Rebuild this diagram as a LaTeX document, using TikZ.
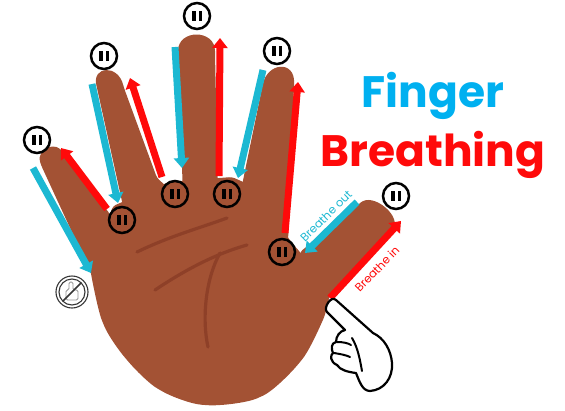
\documentclass[tikz,border=0pt]{standalone}
\usepackage{fontspec}
\newfontfamily\comicfont{Poppins}
\usetikzlibrary{arrows.meta}
\definecolor{skin}{RGB}{163,82,52}
\definecolor{crease}{RGB}{142,64,40}
\definecolor{exhale}{RGB}{28,184,210}
\definecolor{inhale}{RGB}{255,10,10}
\definecolor{titleblue}{RGB}{0,176,240}
\definecolor{iconline}{RGB}{55,55,55}
\begin{document}
\begin{tikzpicture}[x=1pt,y=-1pt,
  breath/.style={line width=7pt,-{Triangle[length=10pt,width=15pt]}},
  exhalearrow/.style={breath,draw=exhale},
  inhalearrow/.style={breath,draw=inhale},
  pausebtn/.style={circle,draw=black,line width=2.5pt,minimum size=26pt,inner sep=0pt,
    path picture={
      \fill ([xshift=-4.6pt,yshift=-5pt]path picture bounding box.center)
        rectangle ([xshift=-1.5pt,yshift=5pt]path picture bounding box.center);
      \fill ([xshift=1.5pt,yshift=-5pt]path picture bounding box.center)
        rectangle ([xshift=4.6pt,yshift=5pt]path picture bounding box.center);}},
  palmline/.style={draw=crease,line width=3.2pt,line cap=round},
  cartoon/.style={draw=black,fill=white,line width=2.2pt,line join=round,line cap=round},
  breathlabel/.style={font=\comicfont\fontsize{11.5}{13}\selectfont,inner sep=0pt},
  titletext/.style={font=\comicfont\bfseries\fontsize{44}{50}\selectfont,inner sep=0pt,anchor=base}
]
\useasboundingbox (0,0) rectangle (565,410);

% ---------- the open hand ----------
\begin{scope}[fill=skin,rounded corners=3pt]
  % little finger
  \fill (95,282) -- (41,165) .. controls (36,148) and (58,140) .. (64,156)
        -- (110,214) -- (118,262) -- cycle;
  % ring finger
  \fill (125,215) -- (97,88) .. controls (92,66) and (118,64) .. (124,88)
        -- (157,178) -- (166,186) -- (150,215) -- cycle;
  % middle finger
  \fill (183,195) -- (178,54) .. controls (178,29) and (215,29) .. (215,54)
        -- (218,190) -- cycle;
  % index finger
  \fill (239,200) -- (262,88) .. controls (267,62) and (295,60) .. (294,86)
        -- (288,242) -- (270,240) -- cycle;
  % thumb
  \fill (300,252) -- (358,205) .. controls (373,191) and (404,218) .. (390,232)
        -- (325,300) -- (300,300) -- cycle;
  % palm
  \fill (113,206) -- (90,270)
        -- plot[smooth] coordinates {(90,270) (103,323) (127,360) (160,390)
           (205,405) (260,397) (300,362) (322,322) (330,295)}
        -- (300,252) -- (292,243) -- (250,185) -- (232,177) -- (169,182) -- cycle;
\end{scope}

% palm creases
\path[palmline] (137,252) .. controls (170,236) and (200,228) .. (227,218);
\path[palmline] (155,290) .. controls (185,270) and (215,254) .. (247,245);
\path[palmline] (220,253) .. controls (205,280) and (202,320) .. (208,347);

% ---------- breathing arrows ----------
% breathe out: down each outer edge
\draw[exhalearrow] (33,168) -- (91,273);
\draw[exhalearrow] (92,84) -- (118,203);
\draw[exhalearrow] (175,47) -- (182,168);
\draw[exhalearrow] (263,70) -- (238,178);
\draw[exhalearrow] (357,202) -- (305,253);
% breathe in: up each inner edge
\draw[inhalearrow] (107,209) -- (61,148);
\draw[inhalearrow] (162,177) -- (130,78);
\draw[inhalearrow] (219,176) -- (220,38);
\draw[inhalearrow] (285,233) -- (298,82);
\draw[inhalearrow] (330,298) -- (401,221);

\node[breathlabel,text=exhale,rotate=44.5] (outlabel) at (326,216) {Breathe out};
\node[breathlabel,text=inhale,rotate=46] (inlabel) at (377,269) {Breathe in};

% ---------- pause points ----------
\node[pausebtn] (p1) at (37,140) {};
\node[pausebtn] (p2) at (122,220) {};
\node[pausebtn] (p3) at (104,56) {};
\node[pausebtn] (p4) at (175,194) {};
\node[pausebtn] (p5) at (197,16) {};
\node[pausebtn] (p6) at (227,194) {};
\node[pausebtn] (p7) at (277,51) {};
\node[pausebtn] (p8) at (282,252) {};
\node[pausebtn] (p9) at (396,196) {};

% ---------- title ----------
\node[titletext,text=titleblue] (title1) at (433,107) {Finger};
\node[titletext,text=inhale] (title2) at (433,166) {Breathing};

% ---------- start marker (crossed-out hand) ----------
\begin{scope}[draw=iconline,line width=1.1pt]
  \draw (72,292) circle[radius=16pt];
  \draw (72,292) circle[radius=13pt];
  \draw[gray!85,line width=0.8pt,rounded corners=1.5pt]
    (66,300) -- (66,290) -- (69,290) -- (69,282) -- (73,282) -- (73,290)
    -- (78,290) -- (78,300) -- cycle;
  \draw[line width=1.6pt] (81.2,282.8) -- (62.8,301.2);
\end{scope}

% ---------- pointing hand ----------
\path[cartoon] (373,333) .. controls (384,338) and (391,350) .. (392,363)
  .. controls (393,378) and (384,390) .. (370,391)
  .. controls (362,391) and (359,380) .. (356,373)
  .. controls (348,372) and (340,370) .. (337,365)
  .. controls (330,362) and (330,355) .. (333,353)
  .. controls (331,349) and (331,343) .. (336,342)
  .. controls (336,336) and (340,331) .. (345,330)
  -- (327,312) .. controls (323,308) and (331,295) .. (336,300) -- cycle;
\draw[line width=2pt,line cap=round] (352,338) .. controls (358,348) and (360,360) .. (362,371);
\draw[line width=2pt,line cap=round] (337,342) .. controls (343,342) and (348,343) .. (351,345);
\draw[line width=2pt,line cap=round] (334,353) .. controls (340,354) and (346,355) .. (350,357);
\end{tikzpicture}
\end{document}
